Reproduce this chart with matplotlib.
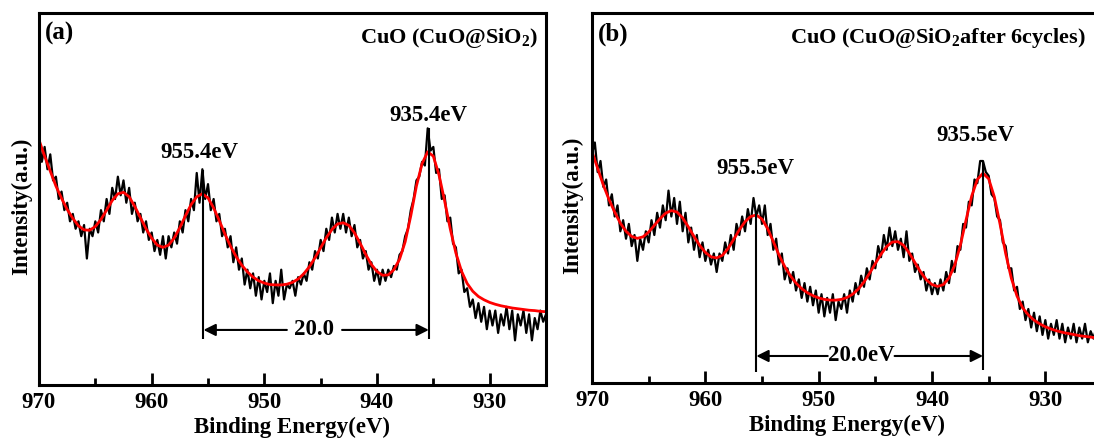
import matplotlib
matplotlib.use('Agg')
import matplotlib.pyplot as plt
import numpy as np

plt.rcParams['font.family'] = 'Liberation Serif'
plt.rcParams['font.weight'] = 'bold'
plt.rcParams['mathtext.fontset'] = 'custom'
plt.rcParams['mathtext.rm'] = 'Liberation Serif:bold'
plt.rcParams['mathtext.it'] = 'Liberation Serif:italic:bold'
plt.rcParams['mathtext.bf'] = 'Liberation Serif:bold'

# %% data: measured spectra, 0.25 eV step starting at 970 eV
raw_a = [66, 60, 64, 58, 62, 55, 56, 50,
         52, 47, 49, 44, 46, 42, 44, 40,
         43, 34, 42, 40, 44, 41, 47, 44,
         50, 46, 53, 50, 56, 51, 55, 49,
         53, 46, 49, 44, 46, 41, 44, 39,
         41, 36, 39, 35, 40, 34, 40, 37,
         41, 38, 44, 41, 47, 44, 50, 47,
         57, 49, 58, 50, 54, 47, 50, 44,
         46, 40, 42, 37, 40, 33, 37, 31,
         34, 27, 31, 26, 30, 24, 29, 23,
         28, 25, 30, 22, 28, 24, 31, 23,
         27, 26, 28, 24, 29, 27, 30, 28,
         33, 31, 36, 34, 39, 36, 42, 39,
         45, 41, 46, 42, 46, 41, 45, 40,
         43, 37, 39, 34, 36, 31, 33, 28,
         31, 27, 31, 28, 31, 29, 32, 31,
         35, 36, 40, 42, 47, 50, 55, 56,
         60, 59, 69, 63, 64, 57, 58, 50,
         51, 44, 45, 38, 37, 30, 31, 25,
         26, 21, 23, 18, 22, 17, 21, 15,
         20, 16, 20, 14, 19, 16, 21, 15,
         20, 12, 19, 16, 20, 14, 19, 12,
         18, 15, 20, 17, 19]

raw_b = [62, 65, 57, 60, 53, 55, 48, 51,
         45, 48, 41, 44, 39, 43, 37, 40,
         33, 39, 36, 41, 38, 44, 40, 46,
         42, 48, 44, 52, 45, 50, 43, 49,
         41, 46, 38, 42, 36, 40, 34, 38,
         33, 36, 32, 35, 30, 35, 33, 38,
         35, 40, 36, 43, 40, 45, 41, 47,
         43, 50, 45, 48, 43, 48, 40, 43,
         36, 39, 32, 35, 28, 31, 27, 30,
         25, 28, 23, 27, 22, 26, 21, 25,
         19, 24, 18, 23, 19, 24, 17, 22,
         20, 24, 19, 25, 22, 27, 24, 29,
         26, 31, 28, 33, 31, 37, 34, 40,
         36, 42, 37, 41, 36, 39, 34, 41,
         33, 35, 30, 32, 28, 30, 25, 28,
         24, 27, 24, 28, 25, 30, 27, 33,
         30, 37, 36, 43, 42, 49, 48, 55,
         54, 60, 60, 57, 56, 51, 50, 45,
         44, 38, 37, 31, 31, 25, 26, 20,
         22, 17, 20, 15, 19, 14, 18, 13,
         17, 12, 16, 13, 17, 12, 16, 11,
         15, 12, 16, 11, 15, 12, 16, 11,
         14, 12, 15, 13, 14]

# fitted envelopes, 0.5 eV step starting at 970 eV
fit_a = [65.9, 61.5, 57.5, 53.5, 50.2, 47.2, 44.8, 42.8, 41.7, 41.6,
         42.6, 44.5, 47.0, 49.6, 51.4, 51.8, 50.6, 48.0, 45.0, 42.0,
         39.5, 37.6, 37.0, 37.6, 39.5, 42.3, 45.5, 48.5, 50.6, 51.4,
         50.3, 47.6, 44.2, 40.6, 37.3, 34.5, 32.2, 30.4, 29.0, 28.0,
         27.4, 27.0, 26.9, 26.9, 27.1, 27.6, 28.5, 29.9, 31.8, 34.2,
         36.9, 39.6, 41.8, 43.3, 43.6, 42.9, 40.9, 38.1, 35.1, 32.4,
         30.5, 29.5, 29.6, 31.0, 33.8, 38.5, 45.5, 53.5, 59.5, 62.7,
         61.5, 56.5, 49.5, 42.0, 35.5, 30.6, 27.3, 25.2, 23.8, 22.9,
         22.2, 21.7, 21.3, 21.0, 20.7, 20.5, 20.3, 20.1, 20.0, 19.8,
         19.7]

fit_b = [62.5, 58.0, 53.5, 49.6, 46.2, 43.2, 41.0, 39.6, 39.1, 39.5,
         40.8, 42.6, 44.4, 45.9, 46.6, 46.2, 44.6, 42.2, 39.6, 37.2,
         35.3, 34.1, 33.8, 34.5, 36.3, 38.8, 41.4, 43.6, 45.0, 45.4,
         44.3, 41.7, 38.2, 34.6, 31.5, 29.0, 27.0, 25.5, 24.4, 23.6,
         23.0, 22.6, 22.4, 22.4, 22.6, 23.1, 24.0, 25.4, 27.3, 29.7,
         32.3, 34.8, 36.9, 38.1, 38.2, 37.2, 35.1, 32.5, 30.0, 27.9,
         26.6, 26.1, 26.6, 28.4, 31.8, 37.2, 44.0, 50.5, 55.0, 56.7,
         55.2, 50.3, 43.0, 35.0, 28.3, 23.5, 20.3, 18.4, 17.0, 16.0,
         15.2, 14.6, 14.1, 13.7, 13.4, 13.1, 12.8, 12.6, 12.4, 12.2,
         12.0]

E_raw_a = 970 - 0.25 * np.arange(len(raw_a))
E_raw_b = 970 - 0.25 * np.arange(len(raw_b))
E_fit_a = 970 - 0.5 * np.arange(len(fit_a))
E_fit_b = 970 - 0.5 * np.arange(len(fit_b))

# %% figure
fig = plt.figure(figsize=(10.94, 4.43), dpi=100)
ax_a = fig.add_axes([39/1094, 1-385/443, 507/1094, 372/443])
ax_b = fig.add_axes([592/1094, 1-383/443, 510/1094, 370/443])

def style(ax):
    ax.set_xlim(970, 925)
    ax.set_ylim(0, 100)
    ax.set_xticks([970, 960, 950, 940, 930])
    ax.set_xticks([965, 955, 945, 935, 925], minor=True)
    ax.set_yticks([])
    ax.tick_params(axis='x', which='major', direction='in', length=9, width=2, labelsize=16.5, pad=5)
    ax.tick_params(axis='x', which='minor', direction='in', length=5, width=2)
    for s in ax.spines.values():
        s.set_linewidth(2.2)
    ax.set_xlabel('Binding Energy(eV)', fontsize=16.5, fontweight='bold', labelpad=3)
    ax.set_ylabel('Intensity(a.u.)', fontsize=16.5, fontweight='bold')

# %% panel (a)
ax_a.plot(E_raw_a, raw_a, color='black', lw=1.6)
ax_a.plot(E_fit_a, fit_a, color='red', lw=2.0)
style(ax_a)
ax_a.yaxis.set_label_coords(-0.014, 0.48)
ax_a.vlines([955.4, 935.4], [12.4, 12.4], [57.8, 69.0], color='black', lw=1.5)
ax_a.annotate('', xy=(955.4, 14.8), xytext=(948.0, 14.8),
              arrowprops=dict(arrowstyle='-|>', color='black', lw=1.5, mutation_scale=18, shrinkA=0, shrinkB=0))
ax_a.annotate('', xy=(935.4, 14.8), xytext=(943.1, 14.8),
              arrowprops=dict(arrowstyle='-|>', color='black', lw=1.5, mutation_scale=18, shrinkA=0, shrinkB=0))
ax_a.text(945.6, 14.8, '20.0', ha='center', va='center', fontsize=16.5)
ax_a.text(955.75, 62.5, '955.4eV', ha='center', va='center', fontsize=16.5)
ax_a.text(935.4, 72.5, '935.4eV', ha='center', va='center', fontsize=16.5)
ax_a.text(0.012, 0.975, '(a)', transform=ax_a.transAxes, ha='left', va='top', fontsize=18)
ax_a.text(0.985, 0.965, 'CuO (CuO@SiO$_2$)', transform=ax_a.transAxes, ha='right', va='top', fontsize=16)

# %% panel (b)
ax_b.plot(E_raw_b, raw_b, color='black', lw=1.6)
ax_b.plot(E_fit_b, fit_b, color='red', lw=2.0)
style(ax_b)
ax_b.yaxis.set_label_coords(-0.018, 0.48)
ax_b.vlines([955.5, 935.5], [3.0, 3.5], [46.0, 59.7], color='black', lw=1.5)
ax_b.annotate('', xy=(955.5, 7.3), xytext=(949.2, 7.3),
              arrowprops=dict(arrowstyle='-|>', color='black', lw=1.5, mutation_scale=18, shrinkA=0, shrinkB=0))
ax_b.annotate('', xy=(935.5, 7.3), xytext=(943.3, 7.3),
              arrowprops=dict(arrowstyle='-|>', color='black', lw=1.5, mutation_scale=18, shrinkA=0, shrinkB=0))
ax_b.text(946.2, 7.3, '20.0eV', ha='center', va='center', fontsize=16.5)
ax_b.text(955.6, 58.0, '955.5eV', ha='center', va='center', fontsize=16.5)
ax_b.text(936.2, 67.0, '935.5eV', ha='center', va='center', fontsize=16.5)
ax_b.text(0.012, 0.975, '(b)', transform=ax_b.transAxes, ha='left', va='top', fontsize=18)
ax_b.text(926.4, 96.5, 'CuO (CuO@SiO$_2$after 6cycles)', ha='right', va='top', fontsize=16)

fig.savefig('out.png', dpi=100)
